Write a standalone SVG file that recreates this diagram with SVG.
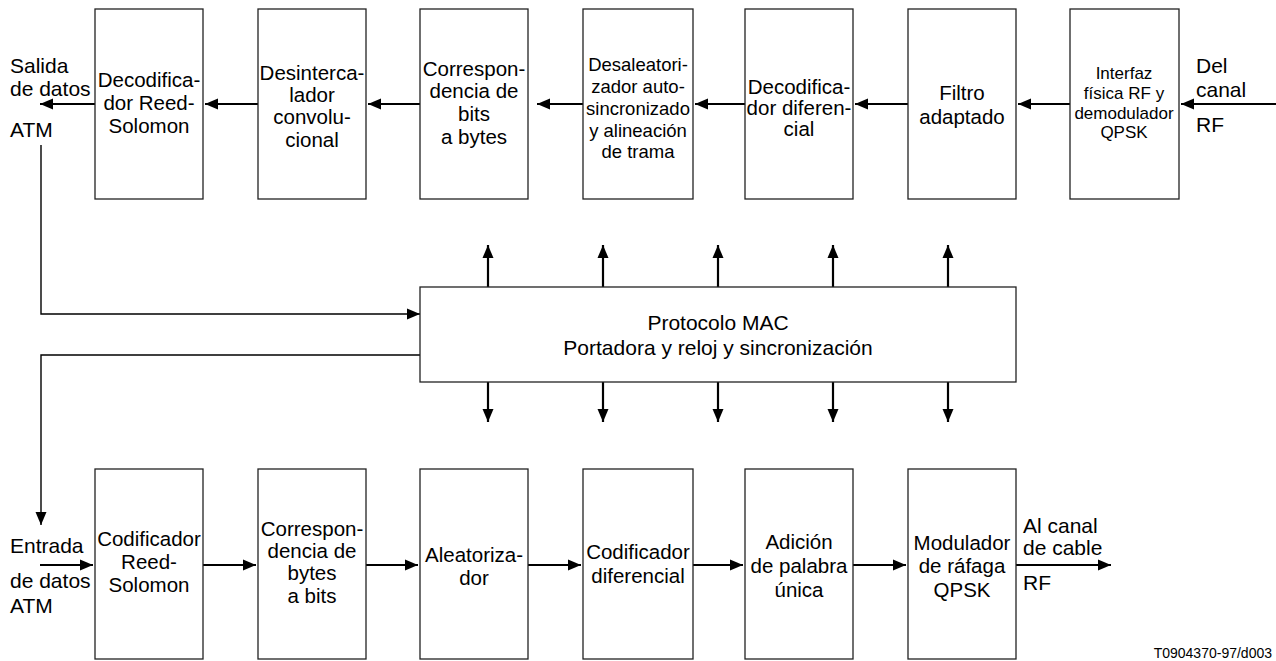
<svg xmlns="http://www.w3.org/2000/svg" width="1276" height="661" viewBox="0 0 1276 661">
<style>
.box{fill:#fff;stroke:#222;stroke-width:1.3}
.t{font-family:"Liberation Sans",Arial,sans-serif;font-size:20.5px;fill:#000;text-anchor:middle}
.l{font-family:"Liberation Sans",Arial,sans-serif;font-size:21px;fill:#000}
.s{font-size:18.5px}
.xs{font-size:17px}
.a{fill:none;stroke:#000;stroke-width:2.2;marker-end:url(#ah)}
.c{fill:none;stroke:#000;stroke-width:1.4}
.ca{fill:none;stroke:#000;stroke-width:1.4;marker-end:url(#ah)}
</style>
<defs>
<marker id="ah" markerUnits="userSpaceOnUse" markerWidth="14" markerHeight="12" refX="13" refY="6" orient="auto">
<path d="M0,0.5 L13,6 L0,11.5 Z" fill="#000"/>
</marker>
</defs>
<rect width="1276" height="661" fill="#fff"/>

<g id="connectors">
<path class="a" d="M1276,104 H1181"/>
<path class="a" d="M1070,104 H1018"/>
<path class="a" d="M908,104 H855"/>
<path class="a" d="M745,104 H695"/>
<path class="a" d="M583,104 H537"/>
<path class="a" d="M420,104 H368"/>
<path class="a" d="M258,104 H205"/>
<path class="a" d="M95,104 H40"/>
<path class="a" d="M40,565 H93"/>
<path class="a" d="M203,565 H256"/>
<path class="a" d="M366,565 H418"/>
<path class="a" d="M528,565 H581"/>
<path class="a" d="M693,565 H743"/>
<path class="a" d="M853,565 H906"/>
<path class="a" d="M1016,565 H1111"/>
<path class="a" d="M488,287 V245"/>
<path class="a" d="M603,287 V245"/>
<path class="a" d="M718,287 V245"/>
<path class="a" d="M833,287 V245"/>
<path class="a" d="M948,287 V245"/>
<path class="a" d="M488,382 V422"/>
<path class="a" d="M603,382 V422"/>
<path class="a" d="M718,382 V422"/>
<path class="a" d="M833,382 V422"/>
<path class="a" d="M948,382 V422"/>
<path class="ca" d="M41,145 V314 H420"/>
<path class="ca" d="M420,355 H41 V525"/>
</g>

<g id="labels">
<text class="l" x="10" y="73">Salida</text>
<text class="l" x="10" y="96">de datos</text>
<text class="l" x="10" y="137">ATM</text>
<text class="l" x="1196" y="73">Del</text>
<text class="l" x="1196" y="97">canal</text>
<text class="l" x="1196" y="132">RF</text>
<text class="l" x="10" y="553">Entrada</text>
<text class="l" x="10" y="588">de datos</text>
<text class="l" x="10" y="613">ATM</text>
<text class="l" x="1023" y="533">Al canal</text>
<text class="l" x="1023" y="555">de cable</text>
<text class="l" x="1023" y="590">RF</text>
<text class="l" x="1272" y="658" style="font-size:14px;text-anchor:end">T0904370-97/d003</text>
</g>

<g id="rs-dec">
<rect class="box" x="95" y="9" width="108" height="190"/>
<text class="t" x="149" y="87">Decodifica-</text>
<text class="t" x="149" y="110">dor Reed-</text>
<text class="t" x="149" y="133">Solomon</text>
</g>
<g id="deinterleaver">
<rect class="box" x="258" y="9" width="108" height="190"/>
<text class="t" x="312" y="80">Desinterca-</text>
<text class="t" x="312" y="102">lador</text>
<text class="t" x="312" y="124">convolu-</text>
<text class="t" x="312" y="147">cional</text>
</g>
<g id="bits-bytes">
<rect class="box" x="420" y="9" width="108" height="190"/>
<text class="t" x="474" y="76">Correspon-</text>
<text class="t" x="474" y="98">dencia de</text>
<text class="t" x="474" y="121">bits</text>
<text class="t" x="474" y="144">a bytes</text>
</g>
<g id="derandomizer">
<rect class="box" x="583" y="9" width="110" height="190"/>
<text class="t s" x="638" y="71">Desaleatori-</text>
<text class="t s" x="638" y="93">zador auto-</text>
<text class="t s" x="638" y="115">sincronizado</text>
<text class="t s" x="638" y="137">y alineación</text>
<text class="t s" x="638" y="158">de trama</text>
</g>
<g id="diff-dec">
<rect class="box" x="745" y="9" width="108" height="190"/>
<text class="t" x="799" y="94">Decodifica-</text>
<text class="t" x="799" y="115">dor diferen-</text>
<text class="t" x="799" y="136">cial</text>
</g>
<g id="matched-filter">
<rect class="box" x="908" y="9" width="108" height="190"/>
<text class="t" x="962" y="100">Filtro</text>
<text class="t" x="962" y="124">adaptado</text>
</g>
<g id="rf-demod">
<rect class="box" x="1070" y="9" width="109" height="190"/>
<text class="t xs" x="1124" y="79">Interfaz</text>
<text class="t xs" x="1124" y="99">física RF y</text>
<text class="t xs" x="1124" y="119">demodulador</text>
<text class="t xs" x="1124" y="138">QPSK</text>
</g>

<g id="mac">
<rect class="box" x="420" y="287" width="596" height="95"/>
<text class="t" x="718" y="330" style="font-size:21px">Protocolo MAC</text>
<text class="t" x="718" y="355" style="font-size:21px">Portadora y reloj y sincronización</text>
</g>

<g id="rs-enc">
<rect class="box" x="95" y="469" width="108" height="190"/>
<text class="t" x="149" y="546">Codificador</text>
<text class="t" x="149" y="569">Reed-</text>
<text class="t" x="149" y="592">Solomon</text>
</g>
<g id="bytes-bits">
<rect class="box" x="258" y="469" width="108" height="190"/>
<text class="t" x="312" y="536">Correspon-</text>
<text class="t" x="312" y="558">dencia de</text>
<text class="t" x="312" y="580">bytes</text>
<text class="t" x="312" y="603">a bits</text>
</g>
<g id="randomizer">
<rect class="box" x="420" y="469" width="108" height="190"/>
<text class="t" x="474" y="562">Aleatoriza-</text>
<text class="t" x="474" y="585">dor</text>
</g>
<g id="diff-enc">
<rect class="box" x="583" y="469" width="110" height="190"/>
<text class="t" x="638" y="559">Codificador</text>
<text class="t" x="638" y="583">diferencial</text>
</g>
<g id="unique-word">
<rect class="box" x="745" y="469" width="108" height="190"/>
<text class="t" x="799" y="549">Adición</text>
<text class="t" x="799" y="573">de palabra</text>
<text class="t" x="799" y="597">única</text>
</g>
<g id="qpsk-mod">
<rect class="box" x="908" y="469" width="108" height="190"/>
<text class="t" x="962" y="550">Modulador</text>
<text class="t" x="962" y="573">de ráfaga</text>
<text class="t" x="962" y="597">QPSK</text>
</g>
</svg>
